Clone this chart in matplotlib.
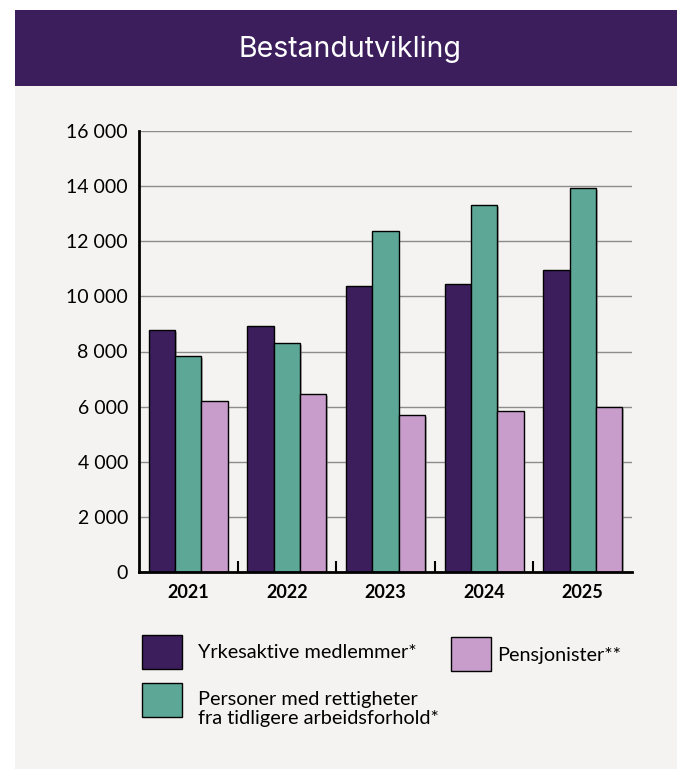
import numpy as np
import matplotlib.pyplot as plt
import matplotlib.patheffects as pe
from matplotlib.patches import Rectangle

# ─── Data ─────────────────────────────────────────────────────────────────────
years = ["2021", "2022", "2023", "2024", "2025"]
yrkesaktive = [8780, 8920, 10360, 10460, 10970]
tidligere = [7830, 8300, 12360, 13310, 13920]
pensjonister = [6190, 6450, 5700, 5840, 5990]

series_labels = [
    "Yrkesaktive medlemmer*",
    "Personer med rettigheter\nfra tidligere arbeidsforhold*",
    "Pensjonister**",
]
y_ticks = [0, 2000, 4000, 6000, 8000, 10000, 12000, 14000, 16000]

PURPLE = "#3c1e5d"
TEAL = "#5da797"
PINK = "#c99dcb"
PANEL = "#f4f3f1"

W, H = 677, 769
fig = plt.figure(figsize=(W / 100, H / 100), dpi=100, facecolor="white")

def px(x, y):
    # pixel position (top-left origin) -> figure fraction
    return x / W, 1 - y / H

# ─── Panel + title bar ────────────────────────────────────────────────────────
x0, y0 = px(15, 769)
x1, y1 = px(677, 86)
fig.patches.append(Rectangle((x0, y0), x1 - x0, y1 - y0, transform=fig.transFigure,
                             facecolor=PANEL, edgecolor="none", zorder=-2))
x0, y0 = px(15, 86)
x1, y1 = px(677, 10)
fig.patches.append(Rectangle((x0, y0), x1 - x0, y1 - y0, transform=fig.transFigure,
                             facecolor=PURPLE, edgecolor="none", zorder=-2))
tx, ty = px(350, 49)
fig.text(tx, ty, "Bestandutvikling", color="white", fontsize=20.5,
         family="Inter", ha="center", va="center")

# ─── Bar chart ────────────────────────────────────────────────────────────────
left, bottom = px(139, 572)
right, top = px(632, 131)
ax = fig.add_axes([left, bottom, right - left, top - bottom], zorder=1)
ax.set_facecolor("none")

x = np.arange(len(years))
w = 0.8 / 3
shadow = [pe.SimplePatchShadow(offset=(1.2, -1.2), shadow_rgbFace="#777777", alpha=0.5),
          pe.Normal()]
for i, (vals, col) in enumerate(zip([yrkesaktive, tidligere, pensjonister],
                                    [PURPLE, TEAL, PINK])):
    bars = ax.bar(x + (i - 1) * w, vals, width=w, color=col, edgecolor="black",
                  linewidth=1, zorder=3)
    for b in bars:
        b.set_path_effects(shadow)

ax.set_xlim(-0.5, len(years) - 0.5)
ax.set_ylim(0, 16000)
ax.set_yticks(y_ticks)
ax.set_yticklabels([f"{v:,}".replace(",", " ") for v in y_ticks],
                   family="Lato", fontsize=14)
ax.tick_params(axis="y", length=0, pad=8)
ax.yaxis.grid(True, color="#8c8c8c", linewidth=1, zorder=0)
ax.set_axisbelow(True)

ax.set_xticks(x)
ax.set_xticklabels(years, family="Lato", fontsize=13, fontweight="bold")
ax.tick_params(axis="x", which="major", length=0, pad=9)
ax.set_xticks(x[:-1] + 0.5, minor=True)
ax.tick_params(axis="x", which="minor", direction="in", length=8, width=1.5,
               color="black")

for s in ["top", "right"]:
    ax.spines[s].set_visible(False)
for s in ["left", "bottom"]:
    ax.spines[s].set_linewidth(2)
    ax.spines[s].set_color("black")
    ax.spines[s].set_zorder(4)

# ─── Legend ───────────────────────────────────────────────────────────────────
def legend_box(xl, yt, color):
    bx, by = px(xl, yt + 34)
    fig.patches.append(Rectangle((bx, by), 40 / W, 34 / H, transform=fig.transFigure,
                                 facecolor=color, edgecolor="black", linewidth=1,
                                 zorder=2))

legend_box(142, 635, PURPLE)
legend_box(451, 637, PINK)
legend_box(142, 683, TEAL)

tx, ty = px(198, 653)
fig.text(tx, ty, series_labels[0], family="Lato", fontsize=14.3, va="center")
tx, ty = px(497, 655)
fig.text(tx, ty, series_labels[2], family="Lato", fontsize=14.3, va="center")
tx, ty = px(198, 709)
fig.text(tx, ty, series_labels[1], family="Lato", fontsize=14.3, va="center",
         linespacing=1.15)

fig.savefig("out.png", dpi=100, facecolor="white")
